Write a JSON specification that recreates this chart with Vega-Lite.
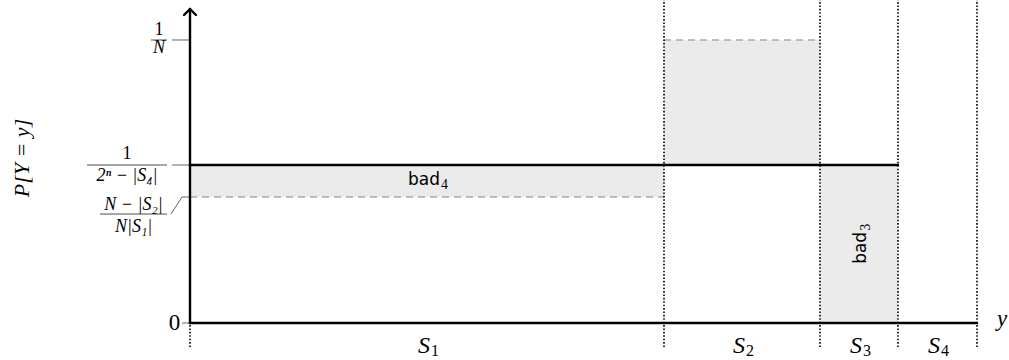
{
  "$schema": "https://vega.github.io/schema/vega-lite/v6.json",
  "width": 1009,
  "height": 360,
  "padding": 0,
  "autosize": {"type": "none"},
  "config": {"view": {"stroke": null}},
  "datasets": {
    "regions": [
      {"name": "bad4", "x": 0, "x2": 474, "y": 44.52, "y2": 55.83},
      {"name": "S2 excess", "x": 474, "x2": 630, "y": 55.83, "y2": 100},
      {"name": "bad3", "x": 630, "x2": 708, "y": 0, "y2": 55.83}
    ],
    "segments": [
      {"kind": "axis", "x": 0, "y": 0, "x2": 787, "y2": 0},
      {"kind": "axis", "x": 0, "y": 0, "x2": 0, "y2": 110.95},
      {"kind": "axis", "x": -6, "y": 108.83, "x2": 0, "y2": 110.95},
      {"kind": "axis", "x": 6, "y": 108.83, "x2": 0, "y2": 110.95},
      {"kind": "level", "x": 0, "y": 55.83, "x2": 708, "y2": 55.83},
      {"kind": "dashed", "x": 0, "y": 44.52, "x2": 474, "y2": 44.52},
      {"kind": "dashed", "x": 474, "y": 100, "x2": 630, "y2": 100},
      {"kind": "dotted", "x": 0, "y": -8.5, "x2": 0, "y2": 0},
      {"kind": "dotted", "x": 474, "y": -8.5, "x2": 474, "y2": 114.1},
      {"kind": "dotted", "x": 630, "y": -8.5, "x2": 630, "y2": 114.1},
      {"kind": "dotted", "x": 708, "y": -8.5, "x2": 708, "y2": 114.1},
      {"kind": "dotted", "x": 787, "y": -8.5, "x2": 787, "y2": 114.1},
      {"kind": "tick", "x": -18, "y": 100, "x2": 0, "y2": 100},
      {"kind": "tick", "x": -18, "y": 55.83, "x2": 0, "y2": 55.83},
      {"kind": "tick", "x": -8, "y": 0, "x2": 0, "y2": 0},
      {"kind": "tick", "x": -19, "y": 38.5, "x2": -8, "y2": 44.52},
      {"kind": "tick", "x": -8, "y": 44.52, "x2": 0, "y2": 44.52},
      {"kind": "fracbar", "x": -39, "y": 100, "x2": -23, "y2": 100},
      {"kind": "fracbar", "x": -103, "y": 55.83, "x2": -23, "y2": 55.83},
      {"kind": "fracbar", "x": -90, "y": 38.5, "x2": -23, "y2": 38.5}
    ],
    "labels": [
      {"kind": "fracRoman", "text": "1", "x": -31, "y": 103.5},
      {"kind": "fracItalic", "text": "N", "x": -31, "y": 97.0},
      {"kind": "fracRoman", "text": "1", "x": -63, "y": 59.7},
      {"kind": "fracItalic", "text": "2ⁿ − |S₄|", "x": -63, "y": 52.0},
      {"kind": "fracItalic", "text": "N − |S₂|", "x": -56.5, "y": 41.6},
      {"kind": "fracItalic", "text": "N|S₁|", "x": -56.5, "y": 34.0},
      {"kind": "axisRoman", "text": "0", "x": -15.5, "y": 0},
      {"kind": "axisItalic", "text": "y", "x": 812, "y": 1.4},
      {"kind": "yTitle", "text": "P[Y = y]", "x": -168, "y": 58.3}
    ],
    "setLabels": [
      {"text": "S", "sub": "1", "x": 240, "y": -8.1},
      {"text": "S", "sub": "2", "x": 555, "y": -8.1},
      {"text": "S", "sub": "3", "x": 672, "y": -8.1},
      {"text": "S", "sub": "4", "x": 750, "y": -8.1}
    ],
    "tags": [
      {"text": "bad", "sub": "4", "x": 250, "y": 50.6, "orient": "flat"},
      {"text": "bad", "sub": "3", "x": 671, "y": 32.2, "orient": "upright"}
    ]
  },
  "encoding": {
    "x": {"field": "x", "type": "quantitative", "scale": {"domain": [-190, 819], "nice": false, "zero": false}, "axis": null},
    "y": {"field": "y", "type": "quantitative", "scale": {"domain": [-13.074, 114.134], "nice": false, "zero": false}, "axis": null}
  },
  "layer": [
    {
      "data": {"name": "regions"},
      "mark": {"type": "rect", "fill": "#ebebeb", "stroke": null},
      "encoding": {"x2": {"field": "x2"}, "y2": {"field": "y2"}}
    },
    {
      "data": {"name": "segments"},
      "transform": [{"filter": "datum.kind === 'dashed'"}],
      "mark": {"type": "rule", "color": "#aaaaaa", "strokeWidth": 1.6, "strokeDash": [7, 5]},
      "encoding": {"x2": {"field": "x2"}, "y2": {"field": "y2"}}
    },
    {
      "data": {"name": "segments"},
      "transform": [{"filter": "datum.kind === 'dotted'"}],
      "mark": {"type": "rule", "color": "#000000", "strokeWidth": 1.6, "strokeDash": [1.6, 1.8]},
      "encoding": {"x2": {"field": "x2"}, "y2": {"field": "y2"}}
    },
    {
      "data": {"name": "segments"},
      "transform": [{"filter": "datum.kind === 'tick'"}],
      "mark": {"type": "rule", "color": "#666666", "strokeWidth": 1},
      "encoding": {"x2": {"field": "x2"}, "y2": {"field": "y2"}}
    },
    {
      "data": {"name": "segments"},
      "transform": [{"filter": "datum.kind === 'fracbar'"}],
      "mark": {"type": "rule", "color": "#222222", "strokeWidth": 0.8},
      "encoding": {"x2": {"field": "x2"}, "y2": {"field": "y2"}}
    },
    {
      "data": {"name": "segments"},
      "transform": [{"filter": "datum.kind === 'level' || datum.kind === 'axis'"}],
      "mark": {"type": "rule", "color": "#000000", "strokeWidth": 2.4, "strokeCap": "round"},
      "encoding": {"x2": {"field": "x2"}, "y2": {"field": "y2"}}
    },
    {
      "data": {"name": "labels"},
      "transform": [{"filter": "datum.kind === 'fracRoman'"}],
      "mark": {"type": "text", "font": "Liberation Serif", "fontSize": 18, "color": "#000000", "align": "center", "baseline": "middle"},
      "encoding": {"text": {"field": "text"}}
    },
    {
      "data": {"name": "labels"},
      "transform": [{"filter": "datum.kind === 'fracItalic'"}],
      "mark": {"type": "text", "font": "Liberation Serif", "fontStyle": "italic", "fontSize": 18, "color": "#000000", "align": "center", "baseline": "middle"},
      "encoding": {"text": {"field": "text"}}
    },
    {
      "data": {"name": "labels"},
      "transform": [{"filter": "datum.kind === 'axisRoman'"}],
      "mark": {"type": "text", "font": "Liberation Serif", "fontSize": 23, "color": "#000000", "align": "center", "baseline": "middle"},
      "encoding": {"text": {"field": "text"}}
    },
    {
      "data": {"name": "labels"},
      "transform": [{"filter": "datum.kind === 'axisItalic'"}],
      "mark": {"type": "text", "font": "Liberation Serif", "fontStyle": "italic", "fontSize": 23, "color": "#000000", "align": "center", "baseline": "middle"},
      "encoding": {"text": {"field": "text"}}
    },
    {
      "data": {"name": "labels"},
      "transform": [{"filter": "datum.kind === 'yTitle'"}],
      "mark": {"type": "text", "font": "Liberation Serif", "fontStyle": "italic", "fontSize": 22, "angle": 270, "color": "#000000", "align": "center", "baseline": "middle"},
      "encoding": {"text": {"field": "text"}}
    },
    {
      "data": {"name": "setLabels"},
      "mark": {"type": "text", "font": "Liberation Serif", "fontStyle": "italic", "fontSize": 24, "color": "#000000", "align": "right", "baseline": "middle"},
      "encoding": {"text": {"field": "text"}}
    },
    {
      "data": {"name": "setLabels"},
      "mark": {"type": "text", "font": "Liberation Serif", "fontSize": 16, "color": "#000000", "align": "left", "baseline": "middle", "dx": 1, "dy": 5},
      "encoding": {"text": {"field": "sub"}}
    },
    {
      "data": {"name": "tags"},
      "transform": [{"filter": "datum.orient === 'flat'"}],
      "mark": {"type": "text", "font": "DejaVu Sans", "fontSize": 17, "color": "#000000", "align": "right", "baseline": "middle"},
      "encoding": {"text": {"field": "text"}}
    },
    {
      "data": {"name": "tags"},
      "transform": [{"filter": "datum.orient === 'flat'"}],
      "mark": {"type": "text", "font": "Liberation Serif", "fontSize": 14, "color": "#000000", "align": "left", "baseline": "middle", "dx": 1, "dy": 5},
      "encoding": {"text": {"field": "sub"}}
    },
    {
      "data": {"name": "tags"},
      "transform": [{"filter": "datum.orient === 'upright'"}],
      "mark": {"type": "text", "font": "DejaVu Sans", "fontSize": 17, "angle": 270, "color": "#000000", "align": "right", "baseline": "middle"},
      "encoding": {"text": {"field": "text"}}
    },
    {
      "data": {"name": "tags"},
      "transform": [{"filter": "datum.orient === 'upright'"}],
      "mark": {"type": "text", "font": "Liberation Serif", "fontSize": 14, "angle": 270, "color": "#000000", "align": "left", "baseline": "middle", "dx": 1, "dy": 5},
      "encoding": {"text": {"field": "sub"}}
    }
  ]
}
